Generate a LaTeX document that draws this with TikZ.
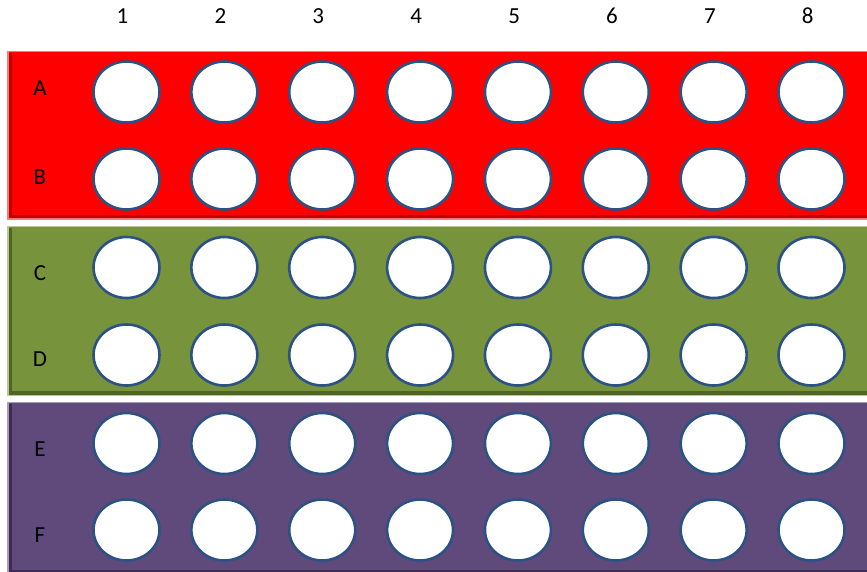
\documentclass[tikz,border=0pt]{standalone}
\usepackage{fontspec}
\setmainfont{Carlito}
\usetikzlibrary{shapes.geometric}
\definecolor{bandred}{RGB}{255,0,0}
\definecolor{bandredD}{RGB}{190,0,0}
\definecolor{bandredL}{RGB}{255,120,120}
\definecolor{bandgreen}{RGB}{119,147,60}
\definecolor{bandgreenD}{RGB}{80,100,38}
\definecolor{bandgreenL}{RGB}{185,200,150}
\definecolor{bandpurple}{RGB}{96,74,123}
\definecolor{bandpurpleD}{RGB}{60,44,80}
\definecolor{bandpurpleL}{RGB}{170,155,190}
\definecolor{wellblue}{RGB}{44,82,132}
\tikzset{
  well/.style={ellipse, draw=wellblue, line width=2.6pt, fill=white,
    minimum width=66pt, minimum height=61pt, inner sep=0pt},
  lbl/.style={font=\fontsize{23}{23}\selectfont, text=black, inner sep=0pt},
}
\begin{document}
\begin{tikzpicture}[x=1pt,y=-1pt]
\useasboundingbox (0,0) rectangle (867,571);
% bands
\foreach \t/\b/\c in {50.5/219.5/bandred, 225.5/396/bandgreen, 401.5/575/bandpurple}{
  \fill[\c L] (7,\t) rectangle (870,\b);
  \fill[\c] (8.5,\t+1.5) rectangle (870,\b-1.5);
  \fill[\c D] (8.5,\t+2) rectangle (12,\b-1.5);
  \fill[\c D] (8.5,\b-5) rectangle (870,\b-1.5);
}
% column labels
\foreach \i in {1,...,8}{
  \node[lbl] (col\i) at ({122.5+(\i-1)*97.9},16) {\i};
}
% row labels
\foreach \r/\y in {A/88.5,B/177.5,C/273,D/359.5,E/449.5,F/535.5}{
  \node[lbl] (row\r) at (40,\y) {\r};
}
% wells
\foreach \r/\y in {A/92,B/179,C/267.5,D/355,E/443.5,F/530}{
  \foreach \i in {1,...,8}{
    \node[well] (w\r\i) at ({126.5+(\i-1)*97.86},\y) {};
  }
}
\end{tikzpicture}
\end{document}
